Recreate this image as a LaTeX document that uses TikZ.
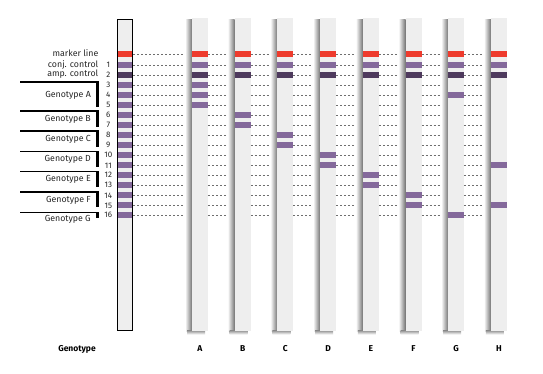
\documentclass[tikz,border=0pt]{standalone}
\usepackage{fontspec}
\setmainfont{Fira Sans}
\definecolor{mred}{HTML}{EE3B2D}
\definecolor{mpurple}{HTML}{84699B}
\definecolor{mdark}{HTML}{4E3A5D}
\definecolor{lanegray}{HTML}{EEEEEE}
\definecolor{dashgray}{HTML}{6E6E6E}
\tikzset{
  lbl/.style={font=\fontsize{8.8}{10}\selectfont, inner sep=0pt, anchor=base east, text=black!85},
  num/.style={font=\fontsize{8}{9}\selectfont, inner sep=0pt, anchor=base, text=black!85},
  foot/.style={font=\fontsize{8.5}{10}\selectfont\bfseries, inner sep=0pt, anchor=base},
  dashline/.style={dashgray, line width=0.9pt, dash pattern=on 2pt off 2pt},
  gline/.style={black, line width=1.2pt},
  gbar/.style={black, line width=3pt},
}
\begin{document}
\begin{tikzpicture}[x=1pt,y=-1pt]
\useasboundingbox (0,0) rectangle (543,374);
% dashed guide lines
\foreach \k in {0,...,16}{
  \pgfmathsetmacro\yy{\k==0 ? 54 : 55+10*\k}
  \draw[dashline] (133,\yy) -- (185,\yy);
  \foreach \i in {0,...,6}{
    \draw[dashline] ({192+42.7*\i+16},\yy) -- ({192+42.7*(\i+1)-7},\yy);
  }
}
% left reference strip
\fill[lanegray] (117.3,19.3) rectangle (132.3,330);
\fill[mred] (117.3,51) rectangle (132.3,57);
\fill[mpurple] (117.3,62) rectangle (132.3,68);
\fill[mdark] (117.3,72) rectangle (132.3,78);
\foreach \k in {3,...,16}{
  \fill[mpurple] (117.3,{55+10*\k-3}) rectangle (132.3,{55+10*\k+3});
}
\draw[black, line width=1pt] (117.3,19.3) rectangle (132.3,330);
% lanes
\foreach \i/\n/\rows in {0/A/{3,4,5},1/B/{6,7},2/C/{8,9},3/D/{10,11},4/E/{12,13},5/F/{14,15},6/G/{4,16},7/H/{11,15}}{
  \pgfmathsetmacro\L{192+42.7*\i}
  \shade[left color=white, right color=black!55] (\L-7,20) rectangle (\L,331);
  \shade[top color=black!40, bottom color=white] (\L-5,330.7) rectangle (\L+13,334.5);
  \fill[lanegray] (\L,18.3) rectangle (\L+16,330.7);
  \fill[mred] (\L,51) rectangle (\L+16,57);
  \fill[mpurple] (\L,62) rectangle (\L+16,68);
  \fill[mdark] (\L,72) rectangle (\L+16,78);
  \foreach \r in \rows{
    \fill[mpurple] (\L,{55+10*\r-3}) rectangle (\L+16,{55+10*\r+3});
  }
  \node[foot] (lab\n) at (\L+8,351) {\n};
}
% left labels
\node[lbl] (mkl) at (98.5,56.7) {marker line};
\node[lbl] (conj) at (98.5,67.3) {conj. control};
\node[lbl] (amp) at (98.5,77) {amp. control};
\foreach \k in {1,...,16}{
  \node[num] (n\k) at (108.3,{55+10*\k+3}) {\k};
}
% genotype groups
\foreach \g/\tp/\bt/\bs in {A/82/107/98,B/111/127/122,C/131/147/142,D/151.3/167/162,E/171.3/187/182,F/192/207/202.7,G/212.3/218.3/222}{
  \draw[gline] (20,\tp) -- (99,\tp);
  \draw[gbar] (97.5,\tp) -- (97.5,\bt);
  \node[lbl] (g\g) at (91,\bs) {Genotype \g};
}
\node[foot] (gt) at (77,351) {Genotype};
\end{tikzpicture}
\end{document}
